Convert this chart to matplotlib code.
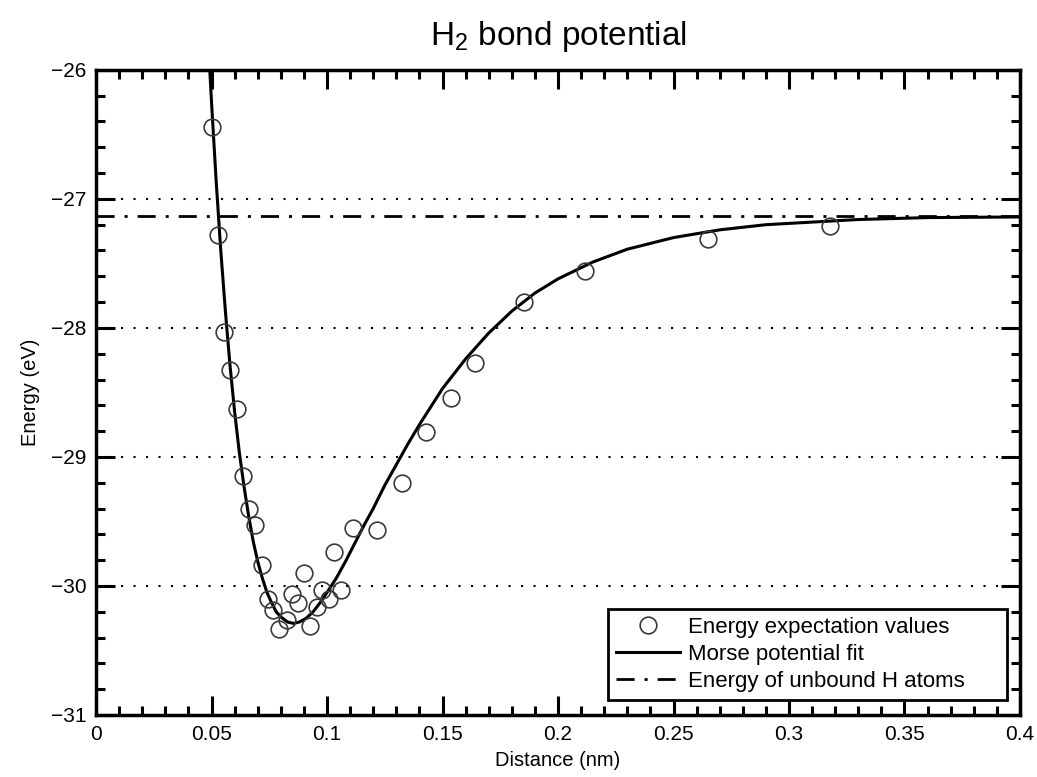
import matplotlib
matplotlib.use("Agg")
import matplotlib.pyplot as plt
from matplotlib.ticker import MultipleLocator

plt.rcParams['font.family'] = ['Liberation Sans', 'DejaVu Sans']

# Energy expectation values (nm, eV)
dist_pts = [0.0503, 0.0529, 0.0555, 0.0581, 0.0609, 0.0635, 0.0662, 0.0688,
            0.0717, 0.0743, 0.0768, 0.0794, 0.0826, 0.0847, 0.0873, 0.0900,
            0.0926, 0.0955, 0.0977, 0.1010, 0.1032, 0.1061, 0.1114, 0.1218,
            0.1323, 0.1429, 0.1535, 0.1641, 0.1854, 0.2117, 0.2648, 0.3177]
energy_pts = [-26.44, -27.28, -28.03, -28.33, -28.63, -29.15, -29.40, -29.53,
              -29.84, -30.10, -30.19, -30.33, -30.26, -30.06, -30.13, -29.90,
              -30.31, -30.16, -30.03, -30.10, -29.74, -30.03, -29.55, -29.57,
              -29.20, -28.81, -28.54, -28.27, -27.80, -27.56, -27.31, -27.21]

# Morse potential fit
fit_dist = [0.049, 0.050, 0.052, 0.054, 0.056, 0.058, 0.060, 0.062, 0.064,
            0.066, 0.068, 0.070, 0.072, 0.074, 0.076, 0.078, 0.080, 0.083,
            0.0855, 0.088, 0.091, 0.094, 0.097, 0.100, 0.104, 0.108, 0.112,
            0.116, 0.120, 0.125, 0.130, 0.135, 0.140, 0.150, 0.160, 0.170,
            0.180, 0.190, 0.200, 0.215, 0.230, 0.250, 0.270, 0.290, 0.310,
            0.330, 0.360, 0.400]
fit_energy = [-25.92, -26.25, -26.86, -27.40, -27.87, -28.29, -28.65, -28.96,
              -29.22, -29.45, -29.65, -29.81, -29.94, -30.05, -30.13, -30.20,
              -30.24, -30.28, -30.29, -30.28, -30.25, -30.20, -30.13, -30.05,
              -29.94, -29.81, -29.67, -29.53, -29.40, -29.22, -29.06, -28.90,
              -28.75, -28.47, -28.24, -28.04, -27.87, -27.73, -27.62, -27.49,
              -27.39, -27.30, -27.24, -27.20, -27.18, -27.16, -27.145, -27.14]

unbound_energy = -27.13

xticks = [0, 0.05, 0.1, 0.15, 0.2, 0.25, 0.3, 0.35, 0.4]
xtick_labels = ['0', '0.05', '0.1', '0.15', '0.2', '0.25', '0.3', '0.35', '0.4']
yticks = [-31, -30, -29, -28, -27, -26]
grid_levels = [-30, -29, -28, -27]

fig = plt.figure(figsize=(10.37, 7.77), dpi=100)
ax = fig.add_axes([0.0926, 0.0798, 0.891, 0.8303])

for g in grid_levels:
    ax.axhline(g, color='black', lw=1.5, ls=(0, (1, 5)), zorder=1)

ax.plot(dist_pts, energy_pts, 'o', ms=12, mfc='none', mec='#3a3a3a', mew=1.2,
        label='Energy expectation values', zorder=4)
ax.plot(fit_dist, fit_energy, '-', color='black', lw=2.2,
        label='Morse potential fit', zorder=3)
ax.axhline(unbound_energy, color='black', lw=2, ls=(0, (6.5, 3.6, 1.1, 3.6)),
           label='Energy of unbound H atoms', zorder=2)

ax.set_xlim(0, 0.4)
ax.set_ylim(-31, -26)
ax.set_xticks(xticks)
ax.set_xticklabels(xtick_labels)
ax.set_yticks(yticks)
ax.xaxis.set_minor_locator(MultipleLocator(0.01))
ax.yaxis.set_minor_locator(MultipleLocator(0.2))
ax.tick_params(which='both', direction='in', top=True, right=True, width=2.2)
ax.tick_params(which='major', length=14, labelsize=15, pad=7)
ax.tick_params(which='minor', length=6.5)
for s in ax.spines.values():
    s.set_linewidth(2.5)

ax.set_title(r'$\mathregular{H_2}$ bond potential', fontsize=24, pad=18)
ax.set_xlabel('Distance (nm)', fontsize=14.5, labelpad=5)
ax.set_ylabel('Energy (eV)', fontsize=14.5, labelpad=8)

leg = ax.legend(loc='lower left', bbox_to_anchor=(0.554, 0.0233, 0.432, 0.14),
                mode='expand', fontsize=16, handlelength=2.9,
                handletextpad=0.35, labelspacing=0.28, borderpad=0.35,
                borderaxespad=0, fancybox=False, framealpha=1)
leg.get_frame().set_edgecolor('black')
leg.get_frame().set_linewidth(2)

fig.savefig('out.png', dpi=100)
